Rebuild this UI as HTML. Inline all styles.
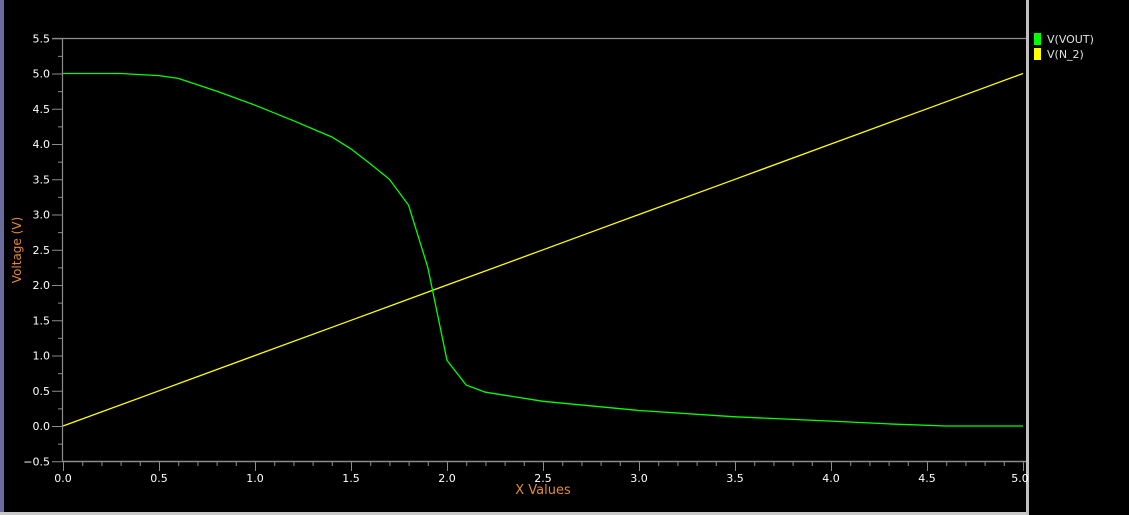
<!DOCTYPE html>
<html><head><meta charset="utf-8"><style>
html,body{margin:0;padding:0;background:#000;}
svg{display:block;font-family:"DejaVu Sans","Liberation Sans",sans-serif;}
</style></head><body>
<svg id="chart" width="1129" height="515">
<rect x="0" y="0" width="1129" height="515" fill="#000"/>
<rect x="0" y="0" width="4" height="515" fill="#6b6b9c"/>
<rect x="1026" y="0" width="3" height="515" fill="#c0c0c0"/>
<rect x="0" y="512" width="1026" height="3" fill="#c8c8c8"/>
<g id="axes"></g>
<g id="series"></g>
<text x="543" y="494" fill="#e08a3c" font-size="13" text-anchor="middle">X Values</text>
<text transform="translate(21,250) rotate(-90)" fill="#e08a3c" font-size="12" text-anchor="middle">Voltage (V)</text>
<g>
<rect x="1034" y="33" width="7" height="12" fill="#00ff00"/>
<text x="1047" y="43" fill="#e0e0e0" font-size="11">V(VOUT)</text>
<rect x="1034" y="48" width="7" height="12" fill="#ffff00"/>
<text x="1047" y="58" fill="#e0e0e0" font-size="11">V(N_2)</text>
</g>
</svg>
<script>
const xTickLabels = ["0.0","0.5","1.0","1.5","2.0","2.5","3.0","3.5","4.0","4.5","5.0"];
const yTickLabels = ["-0.5","0.0","0.5","1.0","1.5","2.0","2.5","3.0","3.5","4.0","4.5","5.0","5.5"];
const voutX = [0,0.3,0.5,0.6,0.8,1.0,1.2,1.4,1.5,1.6,1.7,1.8,1.9,2.0,2.1,2.2,2.5,3.0,3.5,4.0,4.3,4.6,5.0];
const voutY = [5.0,5.0,4.97,4.93,4.75,4.55,4.33,4.1,3.93,3.72,3.5,3.13,2.25,0.93,0.58,0.48,0.35,0.22,0.13,0.07,0.03,0.0,0.0];
const n2X = [0,0.5,1.0,1.5,2.0,2.5,3.0,3.5,4.0,4.5,5.0];
const n2Y = [0,0.5,1.0,1.5,2.0,2.5,3.0,3.5,4.0,4.5,5.0];

const NS="http://www.w3.org/2000/svg";
const X0=63, XU=192, Y0=426, YU=70.5;
function sx(v){return X0+v*XU;}
function sy(v){return Y0-v*YU;}
function mk(tag,attrs,parent){const e=document.createElementNS(NS,tag);for(const k in attrs)e.setAttribute(k,attrs[k]);parent.appendChild(e);return e;}
const axes=document.getElementById('axes');
const ser=document.getElementById('series');
const grey="#8c8c8c";
let e;
e=mk('line',{x1:52,y1:38.5,x2:1026,y2:38.5,stroke:grey,'stroke-width':1.2},axes);


e=mk('line',{x1:62.5,y1:38,x2:62.5,y2:462,stroke:grey,'stroke-width':1.2},axes);


e=mk('line',{x1:62,y1:461.5,x2:1026,y2:461.5,stroke:grey,'stroke-width':1.5},axes);


for(let i=0;i<=50;i++){
  const x=sx(i/10)+0.5, major=i%5===0;
  mk('line',{x1:x,y1:462,x2:x,y2:major?471:466,stroke:grey},axes);
}
xTickLabels.forEach(l=>{
  const v=parseFloat(l);
  e=mk('text',{x:sx(v)+(v===5?-3:0),y:482,fill:"#fff",'font-size':11,'text-anchor':'middle'},axes);
  e.textContent=l;
  
  
});
for(let i=-2;i<=22;i++){
  const y=sy(i/4)+0.5, major=i%2===0;
  mk('line',{x1:major?52:58,y1:y,x2:62,y2:y,stroke:grey},axes);
}
yTickLabels.forEach(l=>{
  const v=parseFloat(l);
  e=mk('text',{x:50,y:sy(v)+4,fill:"#fff",'font-size':11,'text-anchor':'end'},axes);
  e.textContent=l.replace('-','\u2212');
  
  
});
function line(xs,ys,color,name){
  const p=xs.map((x,i)=>sx(x).toFixed(1)+','+sy(ys[i]).toFixed(1)).join(' ');
  const el=mk('polyline',{points:p,fill:'none',stroke:color,'stroke-width':1.3},ser);
  
  
}
line(n2X,n2Y,'#ffff00','series-v-n2');
line(voutX,voutY,'#00ff00','series-v-vout');
</script>
</body></html>
